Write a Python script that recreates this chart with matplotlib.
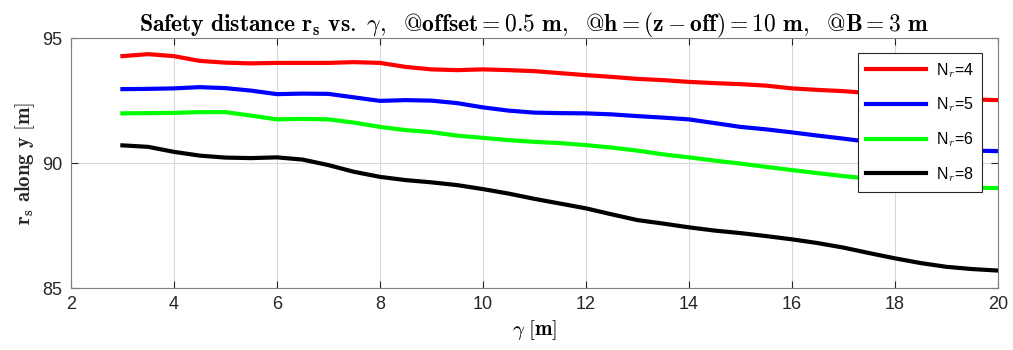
import matplotlib
matplotlib.use("Agg")
import matplotlib.pyplot as plt
import numpy as np

plt.rcParams['mathtext.fontset'] = 'cm'
plt.rcParams['font.family'] = ['Liberation Sans', 'DejaVu Sans']

# gamma values [m]
gamma = [3, 3.5, 4, 4.5, 5, 5.5, 6, 6.5, 7, 7.5, 8, 8.5, 9, 9.5, 10, 10.5, 11, 11.5,
         12, 12.5, 13, 13.5, 14, 14.5, 15, 15.5, 16, 16.5, 17, 17.5, 18, 18.5, 19, 19.5, 20]

# safety distance r_s along y [m] for each N_r
rs_n4 = [94.28, 94.36, 94.28, 94.09, 94.02, 93.99, 94.01, 94.01, 94.01, 94.04, 94.01, 93.85,
         93.75, 93.72, 93.75, 93.72, 93.68, 93.60, 93.52, 93.45, 93.37, 93.32, 93.25, 93.20,
         93.16, 93.10, 92.99, 92.93, 92.88, 92.80, 92.72, 92.62, 92.58, 92.55, 92.52]
rs_n5 = [92.96, 92.97, 92.99, 93.04, 93.00, 92.90, 92.76, 92.78, 92.77, 92.63, 92.49, 92.52,
         92.50, 92.40, 92.23, 92.10, 92.02, 92.00, 91.99, 91.95, 91.88, 91.82, 91.75, 91.60,
         91.45, 91.35, 91.23, 91.10, 90.98, 90.85, 90.72, 90.60, 90.52, 90.50, 90.48]
rs_n6 = [91.99, 92.00, 92.01, 92.04, 92.04, 91.90, 91.75, 91.77, 91.75, 91.62, 91.45, 91.32,
         91.24, 91.10, 91.01, 90.92, 90.85, 90.80, 90.72, 90.62, 90.50, 90.35, 90.23, 90.10,
         89.98, 89.85, 89.72, 89.60, 89.48, 89.38, 89.25, 89.10, 89.05, 89.02, 89.00]
rs_n8 = [90.71, 90.65, 90.45, 90.30, 90.22, 90.20, 90.23, 90.14, 89.92, 89.65, 89.45, 89.32,
         89.23, 89.12, 88.96, 88.78, 88.57, 88.38, 88.19, 87.95, 87.72, 87.58, 87.43, 87.30,
         87.20, 87.08, 86.95, 86.80, 86.62, 86.40, 86.19, 86.00, 85.85, 85.76, 85.70]

labels = ['N$_r$=4', 'N$_r$=5', 'N$_r$=6', 'N$_r$=8']
colors = ['#ff0000', '#0000ff', '#00ff00', '#000000']

fig = plt.figure(figsize=(10.13, 3.5), dpi=100)
ax = fig.add_axes([0.07, 0.177, 0.915, 0.714])

for ys, lab, c in zip([rs_n4, rs_n5, rs_n6, rs_n8], labels, colors):
    ax.plot(gamma, ys, color=c, linewidth=3, label=lab)

ax.set_xlim(2, 20)
ax.set_ylim(85, 95)
ax.set_xticks(np.arange(2, 21, 2))
ax.set_yticks([85, 90, 95])
ax.grid(True, color='#d9d9d9', linewidth=0.8)
ax.tick_params(direction='in', top=True, right=True, labelsize=13,
               colors='#262626', length=5, pad=6)
for sp in ax.spines.values():
    sp.set_color('#808080')

ax.set_title(r'$\mathbf{Safety\ distance\ r_s\ vs.}\ \gamma,\ \ \mathbf{@offset=0.5\ m},\ \ '
             r'\mathbf{@h=(z-off)=10\ m},\ \ \mathbf{@B=3\ m}$',
             fontsize=17, pad=5)
ax.set_xlabel(r'$\gamma\ \mathbf{[m]}$', fontsize=15, labelpad=3)
ax.set_ylabel(r'$\mathbf{r_s\ along\ y\ [m]}$', fontsize=15, labelpad=4, color='#262626')

leg = ax.legend(loc='upper right', bbox_to_anchor=(0.983, 0.941), fontsize=11.5,
                handlelength=3.8, handletextpad=0.6, frameon=True, fancybox=False,
                borderaxespad=0, borderpad=0.5, labelspacing=1.0, edgecolor='#262626',
                framealpha=1)
leg.get_frame().set_linewidth(0.8)

fig.savefig('out.png', dpi=100)
